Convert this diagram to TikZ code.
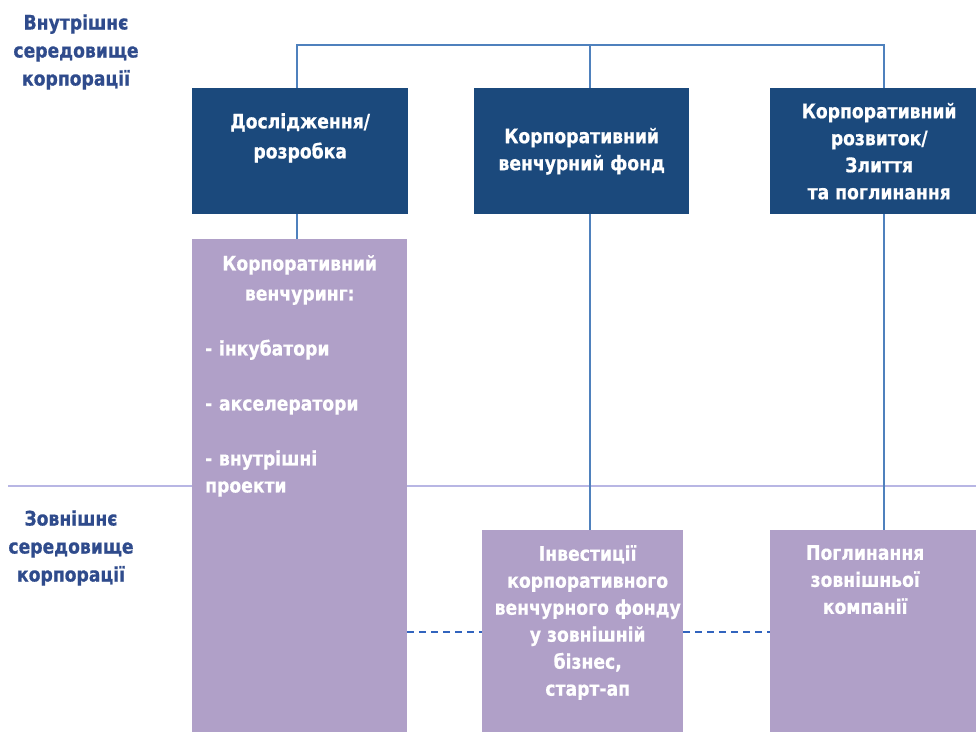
\documentclass[tikz,border=0pt]{standalone}
\usepackage{fontspec}
\setmainfont{DejaVu Sans}[FakeStretch=0.86, BoldFeatures={FakeBold=0.6}]
\usetikzlibrary{positioning}

\definecolor{darkbox}{RGB}{27,73,124}
\definecolor{lavbox}{RGB}{176,160,200}
\definecolor{linkblue}{RGB}{79,129,189}
\definecolor{dashblue}{RGB}{50,100,190}
\definecolor{sepline}{RGB}{184,182,228}
\definecolor{envblue}{RGB}{47,75,140}

\newcommand{\boxfont}{\fontsize{20}{27}\selectfont\bfseries}
\newcommand{\envfont}{\fontsize{20}{28}\selectfont\bfseries}

\begin{document}
\begin{tikzpicture}[
    x=1pt, y=-1pt,
    unit/.style={rectangle, fill=darkbox, anchor=north west, inner sep=0pt, minimum height=126pt, text=white, font=\boxfont, align=center},
    venture/.style={rectangle, fill=lavbox, anchor=north west, inner sep=0pt},
    boxtext/.style={text=white, font=\boxfont, align=center, inner sep=0pt},
    envlabel/.style={text=envblue, font=\envfont, align=center},
    link/.style={draw=linkblue, line width=2.4pt},
    dashlink/.style={draw=dashblue, line width=2pt, dash pattern=on 7pt off 5pt},
    divider/.style={draw=sepline, line width=2pt}
]
    \path[use as bounding box, fill=white] (0,0) rectangle (976,731);

    % Border between inner and outer environment
    \coordinate (sepL) at (8,486);
    \coordinate (sepR) at (976,486);
    \draw[divider] (sepL) -- (sepR);

    % Environment labels
    \node[envlabel] (inner) at (76,52) {Внутрішнє\\середовище\\корпорації};
    \node[envlabel] (outer) at (71,548) {Зовнішнє\\середовище\\корпорації};

    % Corporate units
    \node[unit, minimum width=216pt] (rd) at (192,88) {};
    \node[unit, minimum width=215pt] (cvf) at (474,88) {Корпоративний\\венчурний фонд};
    \node[unit, minimum width=218pt] (cd) at (770,88) {Корпоративний\\розвиток/\\Злиття\\та поглинання};
    \node[boxtext, below=25pt of rd.north] (rdtext) {Дослідження/\\[3pt]розробка};

    % Venturing forms
    \node[venture, minimum width=215pt, minimum height=500pt] (cv) at (192,239) {};
    \node[venture, minimum width=201pt, minimum height=204pt] (inv) at (482,530) {};
    \node[venture, minimum width=218pt, minimum height=204pt] (acq) at (770,530) {};

    \node[boxtext, text width=189pt, align=left, below=16pt of cv.north] (cvtext) {%
        \centering Корпоративний\\[3pt]венчуринг:\par
        \raggedright\vspace{28pt}- інкубатори\par
        \vspace{28pt}- акселератори\par
        \vspace{28pt}- внутрішні\\проекти};
    \node[boxtext, below=15pt of inv.north, xshift=5pt] (invtext)
        {Інвестиції\\корпоративного\\венчурного фонду\\у зовнішній\\бізнес,\\старт-ап};
    \node[boxtext, below=15pt of acq.north, xshift=-14pt] (acqtext)
        {Поглинання\\зовнішньої\\компанії};

    % Tree of links
    \coordinate (top1) at (297,45);
    \coordinate (top2) at (590,45);
    \coordinate (top3) at (884,45);
    \draw[link] (top1 |- rd.north) -- (top1) -- (top3) -- (top3 |- cd.north);
    \draw[link] (top2) -- (top2 |- cvf.north);
    \draw[link] (top1 |- rd.south) -- (top1 |- cv.north);
    \draw[link] (top2 |- cvf.south) -- (top2 |- inv.north);
    \draw[link] (top3 |- cd.south) -- (top3 |- acq.north);

    % Dashed ties
    \draw[dashlink] (inv.west -| cv.east) -- (inv.west);
    \draw[dashlink] (inv.east) -- (acq.west);

\end{tikzpicture}
\end{document}
